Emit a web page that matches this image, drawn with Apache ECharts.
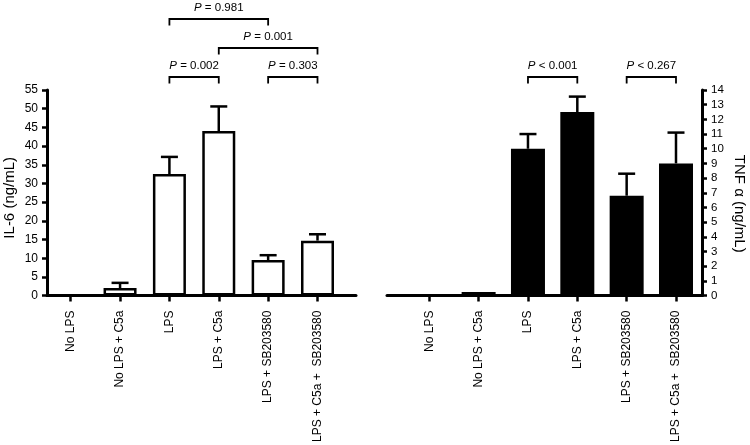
<!DOCTYPE html>
<html>
<head>
<meta charset="utf-8">
<script src="https://cdn.jsdelivr.net/npm/echarts@6/dist/echarts.min.js"></script>
<style>
  html, body { margin: 0; padding: 0; background: #fff; }
  #main { width: 750px; height: 445px; }
</style>
</head>
<body>
<div id="main"></div>
<script>
var categories = ['No LPS', 'No LPS + C5a', 'LPS', 'LPS + C5a', 'LPS + SB203580', 'LPS + C5a +  SB203580'];
var catIndex = [0, 1, 2, 3, 4, 5];

// IL-6 (ng/mL), mean and error
var il6Mean = [0.1, 2.0, 32.5, 44.0, 9.5, 14.7];
var il6Err = [0, 1.4, 4.6, 6.6, 1.3, 1.7];

// TNF alpha (ng/mL), mean and error
var tnfMean = [0.1, 0.25, 10.0, 12.5, 6.8, 9.0];
var tnfErr = [0, 0, 1.0, 1.05, 1.5, 2.1];

// brackets: from category, to category, level, text after P
var il6Pairs = [[2, 3, 0, '= 0.002'], [4, 5, 0, '= 0.303'], [3, 5, 1, '= 0.001'], [2, 4, 2, '= 0.981']];
var tnfPairs = [[2, 3, 0, '< 0.001'], [4, 5, 0, '< 0.267']];

var font = 'Liberation Sans, Arial, Helvetica, sans-serif';

function pairs(a, b) {
	var out = [];
	for (var i = 0; i < a.length; i++) {
		out.push([catIndex[i], a[i], b[i]]);
	}
	return out;
}

function renderError(params, api) {
	var x = api.value(0), m = api.value(1), e = api.value(2);
	if (!e) return;
	var p0 = api.coord([x, m]);
	var p1 = api.coord([x, m + e]);
	var st = { stroke: '#000', lineWidth: 2.5 };
	return {
		type: 'group',
		children: [
			{ type: 'line', shape: { x1: p0[0], y1: p0[1], x2: p1[0], y2: p1[1] }, style: st },
			{ type: 'line', shape: { x1: p1[0] - 8.5, y1: p1[1], x2: p1[0] + 8.5, y2: p1[1] }, style: st }
		]
	};
}

function renderBracket(params, api) {
	var a = api.coord([api.value(0), 0])[0];
	var b = api.coord([api.value(1), 0])[0];
	var y = params.coordSys.y - 13 - api.value(2) * 29;
	var st = { stroke: '#000', lineWidth: 1.8, fill: null };
	return {
		type: 'group',
		children: [
			{ type: 'polyline', shape: { points: [[a, y + 6.5], [a, y], [b, y], [b, y + 6.5]] }, style: st },
			{ type: 'text', x: (a + b) / 2, y: y - 11,
				style: {
					text: '{i|P} ' + api.value(3),
					align: 'center', verticalAlign: 'middle',
					fontSize: 11.5, fontFamily: font, fill: '#000',
					rich: { i: { fontStyle: 'italic', fontSize: 11.5, fontFamily: font } }
				}
			}
		]
	};
}

function xAxisOpt(idx, min, max) {
	return {
		type: 'value', gridIndex: idx, min: min, max: max,
		splitLine: { show: false },
		axisLine: { show: true, onZero: false, lineStyle: { color: '#000', width: 3 } },
		axisTick: { show: true, customValues: catIndex, length: 6, lineStyle: { color: '#000', width: 2.5 } },
		axisLabel: {
			customValues: catIndex, rotate: 90, margin: 15,
			color: '#000', fontSize: 12, fontFamily: font,
			formatter: function (v) { return categories[Math.round(v)]; }
		}
	};
}

function yAxisOpt(idx, max, name, pos) {
	var right = pos == 'right';
	return {
		type: 'value', gridIndex: idx, min: 0, max: max, interval: max == 55 ? 5 : 1,
		position: pos, name: name, nameLocation: 'middle', nameGap: 30,
		nameRotate: right ? -90 : 90,
		nameTextStyle: {
			color: '#000', fontSize: 15, fontFamily: font,
			padding: right ? [0, 0, 0, 22] : [0, 10, 0, 0]
		},
		splitLine: { show: false },
		axisLine: { show: true, onZero: false, lineStyle: { color: '#000', width: 3 } },
		axisTick: { show: true, length: 5, lineStyle: { color: '#000', width: 2.5 } },
		axisLabel: { color: '#000', fontSize: right ? 11.5 : 12, fontFamily: font, margin: 9 }
	};
}

var myChart = echarts.init(document.getElementById('main'));
var option = {
	animation: false,
	backgroundColor: '#fff',
	grid: [
		{ left: 47, right: 394, top: 90, bottom: 147 },
		{ left: 387, right: 48, top: 90, bottom: 147 }
	],
	xAxis: [xAxisOpt(0, -0.48, 5.78), xAxisOpt(1, -0.857, 5.527)],
	yAxis: [yAxisOpt(0, 55, 'IL-6 (ng/mL)', 'left'), yAxisOpt(1, 14, 'TNF α (ng/mL)', 'right')],
	series: [
		{
			type: 'bar', xAxisIndex: 0, yAxisIndex: 0, barWidth: 33,
			data: pairs(il6Mean, il6Err).map(function (d) { return [d[0], d[1]]; }),
			itemStyle: { color: '#fff', borderColor: '#000', borderWidth: 2.5 }
		},
		{
			type: 'custom', xAxisIndex: 0, yAxisIndex: 0, z: 5,
			renderItem: renderError, data: pairs(il6Mean, il6Err)
		},
		{
			type: 'bar', xAxisIndex: 1, yAxisIndex: 1, barWidth: 34,
			data: pairs(tnfMean, tnfErr).map(function (d) { return [d[0], d[1]]; }),
			itemStyle: { color: '#000' }
		},
		{
			type: 'custom', xAxisIndex: 1, yAxisIndex: 1, z: 5,
			renderItem: renderError, data: pairs(tnfMean, tnfErr)
		},
		{
			type: 'custom', xAxisIndex: 0, yAxisIndex: 0, clip: false,
			renderItem: renderBracket, data: il6Pairs
		},
		{
			type: 'custom', xAxisIndex: 1, yAxisIndex: 1, clip: false,
			renderItem: renderBracket, data: tnfPairs
		}
	]
};
myChart.setOption(option);
</script>
</body>
</html>
